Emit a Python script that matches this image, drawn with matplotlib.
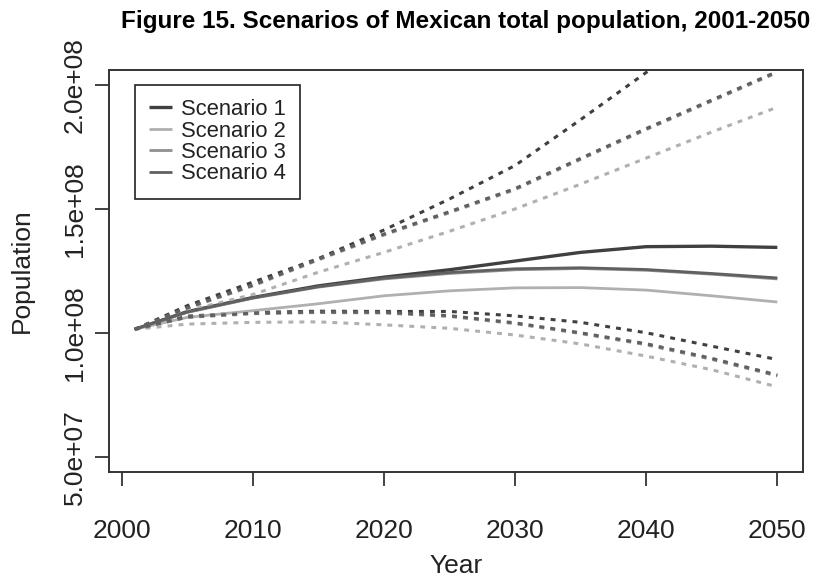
import numpy as np
import matplotlib
matplotlib.use("Agg")
import matplotlib.pyplot as plt

plt.rcParams['font.family'] = ['Liberation Sans', 'DejaVu Sans']

years = [2001, 2005, 2010, 2015, 2020, 2025, 2030, 2035, 2040, 2045, 2050]

# central projections (millions of people)
s1_mid = [101.5, 108.6, 114.3, 119.0, 122.5, 125.5, 129.0, 132.5, 134.8, 135.0, 134.5]
s2_mid = [101.5, 106.3, 109.0, 111.8, 115.0, 117.0, 118.2, 118.3, 117.3, 115.0, 112.5]
s3_mid = [101.5, 108.3, 114.0, 118.5, 121.8, 124.0, 125.5, 126.0, 125.3, 123.7, 121.8]
s4_mid = [101.5, 108.5, 114.2, 118.7, 122.1, 124.4, 125.9, 126.3, 125.6, 124.0, 122.2]

# upper bounds
s1_hi = [101.5, 111.0, 120.5, 130.0, 141.5, 154.0, 167.5, 186.0, 205.0, 224.0, 244.0]
s2_hi = [101.5, 109.0, 115.5, 124.5, 132.5, 141.0, 150.0, 160.0, 170.5, 181.0, 191.0]
s3_hi = [101.5, 110.0, 119.0, 129.5, 139.5, 148.5, 157.8, 170.0, 182.0, 193.5, 205.0]
s4_hi = [101.5, 110.2, 119.3, 129.8, 139.9, 148.9, 158.2, 170.4, 182.4, 193.9, 205.4]

# lower bounds
s1_lo = [101.5, 106.8, 108.3, 108.8, 108.7, 108.7, 106.9, 104.3, 100.1, 94.7, 89.3]
s2_lo = [101.5, 103.6, 104.3, 104.5, 103.3, 101.9, 99.2, 95.6, 90.7, 85.2, 78.3]
s3_lo = [101.5, 106.3, 107.8, 108.3, 108.1, 106.7, 103.8, 99.8, 95.3, 89.4, 82.7]
s4_lo = [101.5, 106.5, 108.0, 108.5, 108.4, 107.0, 104.1, 100.1, 95.7, 89.8, 83.1]

labels = ["Scenario 1", "Scenario 2", "Scenario 3", "Scenario 4"]
colors = ["#404040", "#b0b0b0", "#8f8f8f", "#606060"]
widths = [2.4, 2.0, 2.0, 2.0]

mids = [s1_mid, s2_mid, s3_mid, s4_mid]
his = [s1_hi, s2_hi, s3_hi, s4_hi]
los = [s1_lo, s2_lo, s3_lo, s4_lo]

fig = plt.figure(figsize=(8.19, 5.77), dpi=100)
ax = fig.add_axes([0.1331, 0.1820, 0.8474, 0.6967])

yrs = np.array(years)
for mid, hi, lo, c, w, lab in zip(mids, his, los, colors, widths, labels):
    ax.plot(yrs, np.array(mid) * 1e6, color=c, lw=w, label=lab, solid_capstyle="butt")
    ax.plot(yrs, np.array(hi) * 1e6, color=c, lw=2.2, ls=(0, (1.6, 2.0)))
    ax.plot(yrs, np.array(lo) * 1e6, color=c, lw=2.2, ls=(0, (1.6, 2.0)))

ax.set_xlim(1999.04, 2051.96)
ax.set_ylim(4.4e7, 2.06e8)

ax.set_xticks([2000, 2010, 2020, 2030, 2040, 2050])
ax.set_yticks([5e7, 1e8, 1.5e8, 2e8])
ax.set_yticklabels(["5.0e+07", "1.0e+08", "1.5e+08", "2.0e+08"],
                   rotation=90, va="center")
ax.tick_params(axis="both", labelsize=19, length=10, width=1.2, color="#222222",
               labelcolor="#222222")
ax.tick_params(axis="x", pad=24)
ax.tick_params(axis="y", pad=6)
for sp in ax.spines.values():
    sp.set_linewidth(1.4)
    sp.set_color("#333333")

ax.set_xlabel("Year", fontsize=19, color="#222222", labelpad=8)
ax.set_ylabel("Population", fontsize=19, color="#222222", labelpad=21)

fig.text(0.568, 0.962, "Figure 15. Scenarios of Mexican total population, 2001-2050",
         ha="center", va="center", fontsize=17.5, fontweight="bold")

leg = ax.legend(loc="upper left", bbox_to_anchor=(0.0375, 0.963), fontsize=15.8,
                handlelength=1.05, handletextpad=0.4, labelspacing=0.02,
                borderpad=0.65, borderaxespad=0, fancybox=False, framealpha=1,
                edgecolor="#222222")
leg.get_frame().set_linewidth(1.2)
for t in leg.get_texts():
    t.set_color("#222222")

fig.savefig("out.png", dpi=100)
